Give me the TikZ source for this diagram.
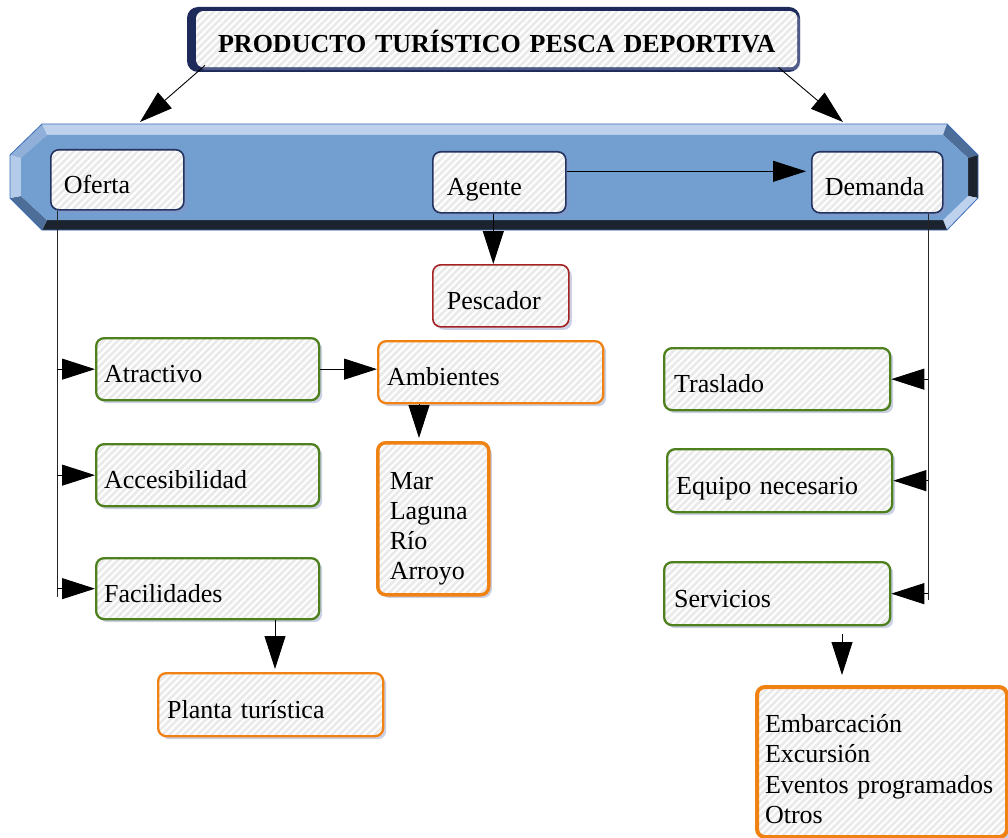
\documentclass[tikz,border=0pt]{standalone}
\usepackage{fontspec}
\setmainfont{Liberation Serif}
\usetikzlibrary{arrows.meta,shadows,patterns.meta,calc}
\definecolor{navy}{RGB}{35,50,95}
\definecolor{titlenavy}{RGB}{30,42,90}
\definecolor{grn}{RGB}{78,128,30}
\definecolor{orng}{RGB}{240,130,20}
\definecolor{redb}{RGB}{165,35,35}
\definecolor{boxfill}{RGB}{234,234,234}
\definecolor{shadowc}{RGB}{140,150,195}
\definecolor{bface}{RGB}{115,159,208}
\definecolor{blight}{RGB}{190,210,238}
\definecolor{bleft}{RGB}{180,203,233}
\definecolor{bmidl}{RGB}{144,176,218}
\definecolor{bmidd}{RGB}{78,110,154}
\definecolor{bdark}{RGB}{27,35,46}
\definecolor{bline}{RGB}{59,109,181}
\tikzset{
  base/.style={rounded corners=8pt,
    drop shadow={shadow xshift=3pt, shadow yshift=-3pt, fill=shadowc, opacity=0.45},
    preaction={fill=boxfill},
    preaction={pattern={Lines[angle=45,distance=5pt,line width=2pt]}, pattern color=white},
    anchor=north west, align=left, inner ysep=2pt,
    font=\fontsize{26}{30}\selectfont, text height=27pt, text depth=0pt},
  nbox/.style={base, draw=navy, line width=1.6pt},
  gbox/.style={base, draw=grn, line width=2.3pt},
  obox/.style={base, draw=orng, line width=2.3pt},
  rbox/.style={base, draw=redb, line width=1.6pt},
  listbox/.style={base, draw=orng, text height=20pt},
  arr/.style={-{Triangle[length=33pt,width=21pt]}, line width=0.9pt, black},
  trunk/.style={line width=0.9pt, black!85},
}
\begin{document}
\begin{tikzpicture}[x=1pt,y=-1pt]
\useasboundingbox (0,0) rectangle (1008,837);
% banner
\coordinate (O1) at (42,124); \coordinate (O2) at (947,124);
\coordinate (O3) at (978,155); \coordinate (O4) at (978,198);
\coordinate (O5) at (947,230); \coordinate (O6) at (42,230);
\coordinate (O7) at (10,198); \coordinate (O8) at (10,155);
\coordinate (I1) at (47,135); \coordinate (I2) at (943,135);
\coordinate (I3) at (968,158); \coordinate (I4) at (968,196);
\coordinate (I5) at (943,220); \coordinate (I6) at (47,220);
\coordinate (I7) at (21,196); \coordinate (I8) at (21,158);
\fill[blight] (O1) -- (O2) -- (I2) -- (I1) -- cycle;
\fill[bmidd] (O2) -- (O3) -- (I3) -- (I2) -- cycle;
\fill[bdark] (O3) -- (O4) -- (I4) -- (I3) -- cycle;
\fill[blight] (O4) -- (O5) -- (I5) -- (I4) -- cycle;
\fill[bdark] (O5) -- (O6) -- (I6) -- (I5) -- cycle;
\fill[bmidd] (O6) -- (O7) -- (I7) -- (I6) -- cycle;
\fill[bleft] (O7) -- (O8) -- (I8) -- (I7) -- cycle;
\fill[bmidl] (O8) -- (O1) -- (I1) -- (I8) -- cycle;
\fill[bface] (I1) -- (I2) -- (I3) -- (I4) -- (I5) -- (I6) -- (I7) -- (I8) -- cycle;
\draw[bline, line width=0.8pt] (O1) -- (O2) -- (O3) -- (O4) -- (O5) -- (O6) -- (O7) -- (O8) -- cycle;
\coordinate (tl) at (140,122);
\coordinate (tr) at (843,122);
% title
\fill[titlenavy, rounded corners=11pt] (187,7) rectangle (800,72);
\node[base, drop shadow={opacity=0}, rounded corners=7pt, text width=601pt, inner xsep=0pt, minimum height=56pt, align=center, font=\fontsize{26}{30}\selectfont\bfseries] (title) at (196,11) {PRODUCTO TURÍSTICO PESCA DEPORTIVA};
\draw[arr] ([xshift=9pt,yshift=2pt]title.south west) -- (tl);
\draw[arr] ([xshift=-19pt]title.south east) -- (tr);
% banner boxes
\node[nbox, text width=107pt, inner xsep=13pt, minimum height=60pt] (ofe) at (50,149) {Oferta};
\node[nbox, text width=105pt, inner xsep=14pt, minimum height=61pt] (ag) at (432,151) {Agente};
\node[nbox, text width=105pt, inner xsep=13pt, minimum height=61pt] (dem) at (811,151) {Demanda};
\node[rbox, text width=108pt, inner xsep=14pt, minimum height=62pt] (pes) at (432,264) {Pescador};
% left column
\node[gbox, text width=207pt, inner xsep=8pt, minimum height=62pt] (atr) at (95,337) {Atractivo};
\node[gbox, text width=207pt, inner xsep=8pt, minimum height=62pt] (acc) at (95,443) {Accesibilidad};
\node[gbox, text width=207pt, inner xsep=8pt, minimum height=61pt] (fac) at (95,557) {Facilidades};
\node[obox, text width=207pt, inner xsep=9pt, minimum height=62pt] (amb) at (377,340) {Ambientes};
\node[listbox, line width=3.5pt, text width=87pt, inner xsep=12pt, minimum height=152pt, text depth=78pt] (mar) at (376,441) {Mar\\Laguna\\Río\\Arroyo};
\node[obox, text width=207pt, inner xsep=9pt, minimum height=63pt] (pla) at (157,672) {Planta turística};
% right column
\node[gbox, text width=206pt, inner xsep=10pt, minimum height=62pt] (tra) at (663,347) {Traslado};
\node[gbox, text width=207pt, inner xsep=9pt, minimum height=63pt] (equ) at (666,448) {Equipo necesario};
\node[gbox, text width=206pt, inner xsep=10pt, minimum height=63pt] (ser) at (663,561) {Servicios};
\node[listbox, line width=4pt, text width=234pt, inner xsep=8pt, minimum height=150pt, text depth=80pt, font=\fontsize{26}{30.5}\selectfont] (emb) at (755,685) {Embarcación\\Excursión\\\mbox{Eventos programados}\\Otros};
% connectors
\draw[arr, shorten >=5pt] ([yshift=11pt]ag.east) -- ([yshift=11pt]ag.east -| dem.west);
\draw[arr] ([xshift=-6pt]ag.south) -- ([xshift=-6pt]ag.south |- pes.north);
\coordinate (oend) at (57,597);
\draw[trunk] (ofe.south -| oend) -- (oend);
\draw[arr] (oend |- atr.west) -- (atr.west);
\draw[arr] (oend |- acc.west) -- (acc.west);
\draw[arr] (oend |- fac.west) -- (fac.west);
\coordinate (dend) at (928,600);
\draw[trunk] (dem.south -| dend) -- (dend);
\draw[arr] (dend |- tra.east) -- (tra.east);
\draw[arr] (dend |- equ.east) -- (equ.east);
\draw[arr] (dend |- ser.east) -- (ser.east);
\draw[arr] (atr.east) -- (atr.east -| amb.west);
\draw[arr, shorten >=3pt] ([xshift=42pt]amb.south west) -- ([xshift=42pt]amb.south west |- mar.north);
\draw[arr, shorten >=3pt] ([xshift=180pt]fac.south west) -- ([xshift=180pt]fac.south west |- pla.north);
\draw[arr, shorten <=8pt, shorten >=10pt] ([xshift=179pt]ser.south west) -- ([xshift=179pt]ser.south west |- emb.north);
\end{tikzpicture}
\end{document}
